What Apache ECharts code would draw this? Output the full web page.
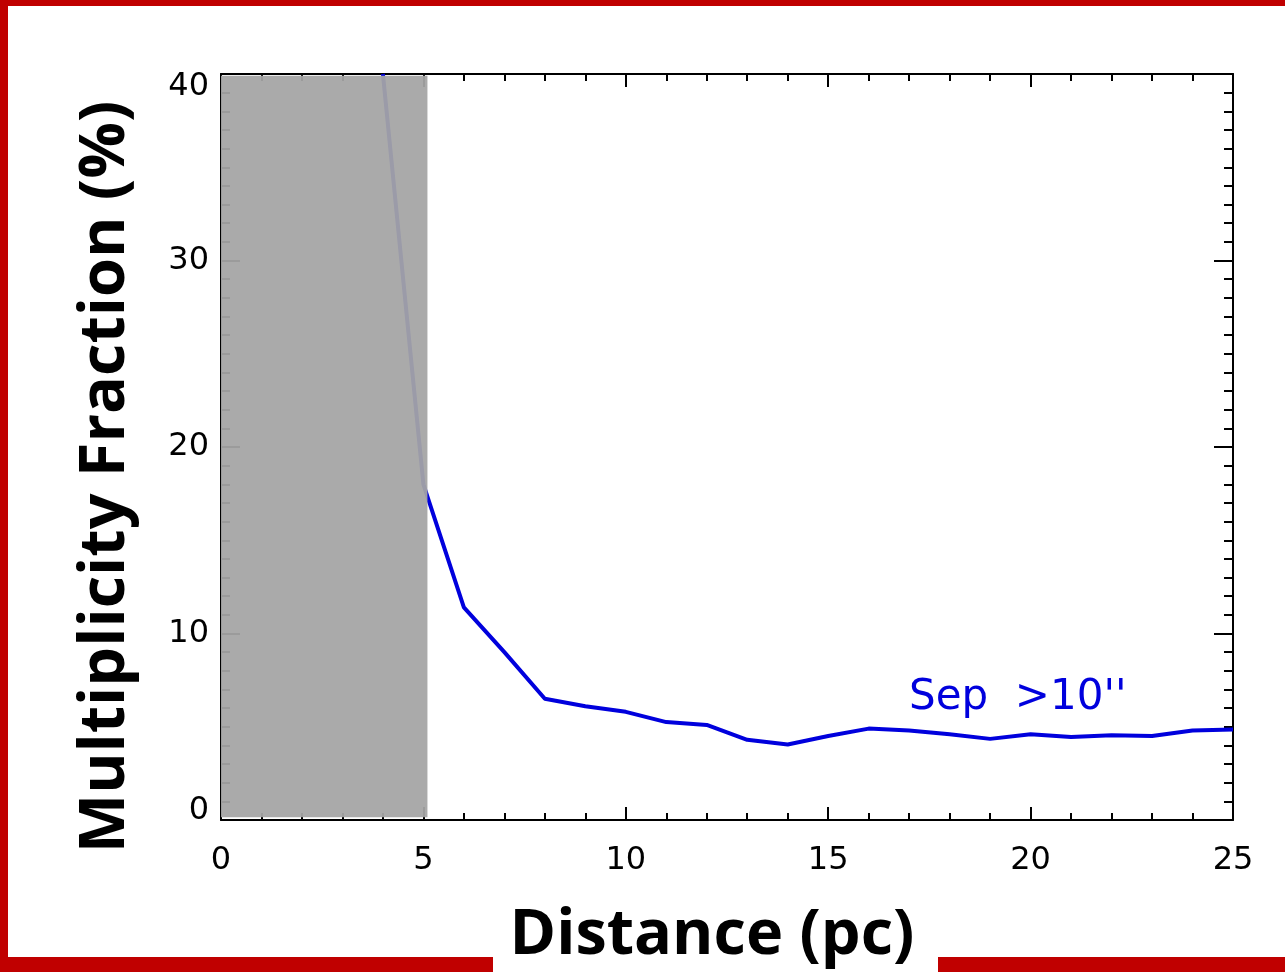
<!DOCTYPE html>
<html>
<head>
<meta charset="utf-8">
<script src="https://cdn.jsdelivr.net/npm/echarts@6/dist/echarts.min.js"></script>
<style>
  html, body { margin: 0; padding: 0; background: #fff; }
  #chart { width: 1285px; height: 972px; }
</style>
</head>
<body>
<div id="chart"></div>
<script>
// distance (pc) and multiplicity fraction (%)
var distances = [4, 5, 6, 7, 8, 9, 10, 11, 12, 13, 14, 15, 16, 17, 18, 19, 20, 21, 22, 23, 24, 25];
var fractions = [40.0, 18.0, 11.4, 9.0, 6.5, 6.1, 5.8, 5.25, 5.1, 4.3, 4.05, 4.5, 4.9, 4.8, 4.6, 4.35, 4.6, 4.45, 4.55, 4.5, 4.8, 4.85];
// shaded (excluded) distance range
var shadeX = [0, 5.1];
var shadeY = [0.15, 39.9];
var xTicks = [0, 5, 10, 15, 20, 25];
var yTicks = [0, 10, 20, 30, 40];

var lineData = distances.map(function (d, i) { return [d, fractions[i]]; });

var tickFont = { fontFamily: 'DejaVu Sans', fontSize: 32, color: '#000' };
var titleFont = 'bold 63px "Open Sans"';
var red = '#C00000';

var option = {
  animation: false,
  backgroundColor: '#fff',
  grid: { left: 221, right: 52, top: 74, bottom: 152 },
  xAxis: [
    {
      type: 'value', min: xTicks[0], max: xTicks[xTicks.length - 1], interval: 5,
      axisLine: { show: true, onZero: false, lineStyle: { color: '#000', width: 2 } },
      axisTick: { show: true, inside: true, length: 13, lineStyle: { color: '#000', width: 2 } },
      minorTick: { show: true, splitNumber: 5, length: 7, lineStyle: { color: '#000', width: 2 } },
      splitLine: { show: false },
      axisLabel: Object.assign({ margin: 25 }, tickFont)
    },
    {
      type: 'value', position: 'top', min: 0, max: 25, interval: 5,
      axisLine: { show: true, onZero: false, lineStyle: { color: '#000', width: 2 } },
      axisTick: { show: true, inside: true, length: 13, lineStyle: { color: '#000', width: 2 } },
      minorTick: { show: true, splitNumber: 5, length: 7, lineStyle: { color: '#000', width: 2 } },
      splitLine: { show: false },
      axisLabel: { show: false }
    }
  ],
  yAxis: [
    {
      type: 'value', min: yTicks[0], max: yTicks[yTicks.length - 1], interval: 10,
      axisLine: { show: true, onZero: false, lineStyle: { color: '#000', width: 2 } },
      axisTick: { show: true, inside: true, length: 19, lineStyle: { color: '#000', width: 2 } },
      minorTick: { show: true, splitNumber: 10, length: 9, lineStyle: { color: '#000', width: 2 } },
      splitLine: { show: false },
      axisLabel: Object.assign({
        margin: 12,
        formatter: function (v) {
          if (v === 40) return '{t|' + v + '}';
          if (v === 0) return '{b|' + v + '}';
          return String(v);
        },
        rich: {
          t: Object.assign({ padding: [26, 0, 0, 0] }, tickFont),
          b: Object.assign({ padding: [0, 0, 18, 0] }, tickFont)
        }
      }, tickFont)
    },
    {
      type: 'value', position: 'right', min: 0, max: 40, interval: 10,
      axisLine: { show: true, onZero: false, lineStyle: { color: '#000', width: 2 } },
      axisTick: { show: true, inside: true, length: 19, lineStyle: { color: '#000', width: 2 } },
      minorTick: { show: true, splitNumber: 10, length: 9, lineStyle: { color: '#000', width: 2 } },
      splitLine: { show: false },
      axisLabel: { show: false }
    }
  ],
  series: [
    {
      type: 'line',
      data: lineData,
      showSymbol: false,
      clip: true,
      z: 2,
      lineStyle: { color: '#0000DD', width: 4 }
    },
    {
      type: 'custom',
      z: 5,
      data: [[shadeX[0], shadeX[1], shadeY[0], shadeY[1]]],
      encode: { x: [0, 1], y: [2, 3] },
      renderItem: function (params, api) {
        var p0 = api.coord([api.value(0), api.value(3)]);
        var p1 = api.coord([api.value(1), api.value(2)]);
        return {
          type: 'rect',
          shape: { x: p0[0], y: p0[1], width: p1[0] - p0[0], height: p1[1] - p0[1] },
          style: { fill: 'rgba(165,165,165,0.94)' }
        };
      }
    }
  ],
  graphic: [
    { type: 'rect', shape: { x: 0, y: 0, width: 8, height: 972 }, style: { fill: red } },
    { type: 'rect', shape: { x: 0, y: 0, width: 1285, height: 6 }, style: { fill: red } },
    { type: 'rect', shape: { x: 0, y: 957, width: 493, height: 15 }, style: { fill: red } },
    { type: 'rect', shape: { x: 938, y: 957, width: 347, height: 15 }, style: { fill: red } },
    {
      type: 'text', x: 712, y: 936,
      style: { text: 'Distance (pc)', font: titleFont, fill: '#000', align: 'center', verticalAlign: 'middle' }
    },
    {
      type: 'text', x: 106, y: 477, rotation: Math.PI / 2,
      style: { text: 'Multiplicity Fraction (%)', font: titleFont, fill: '#000', align: 'center', verticalAlign: 'middle' }
    },
    {
      type: 'text', x: 909, y: 698,
      style: { text: "Sep  >10''", font: '42px "DejaVu Sans"', fill: '#0000DD', align: 'left', verticalAlign: 'middle' }
    }
  ]
};

var myChart = echarts.init(document.getElementById('chart'));
myChart.setOption(option);
</script>
</body>
</html>
